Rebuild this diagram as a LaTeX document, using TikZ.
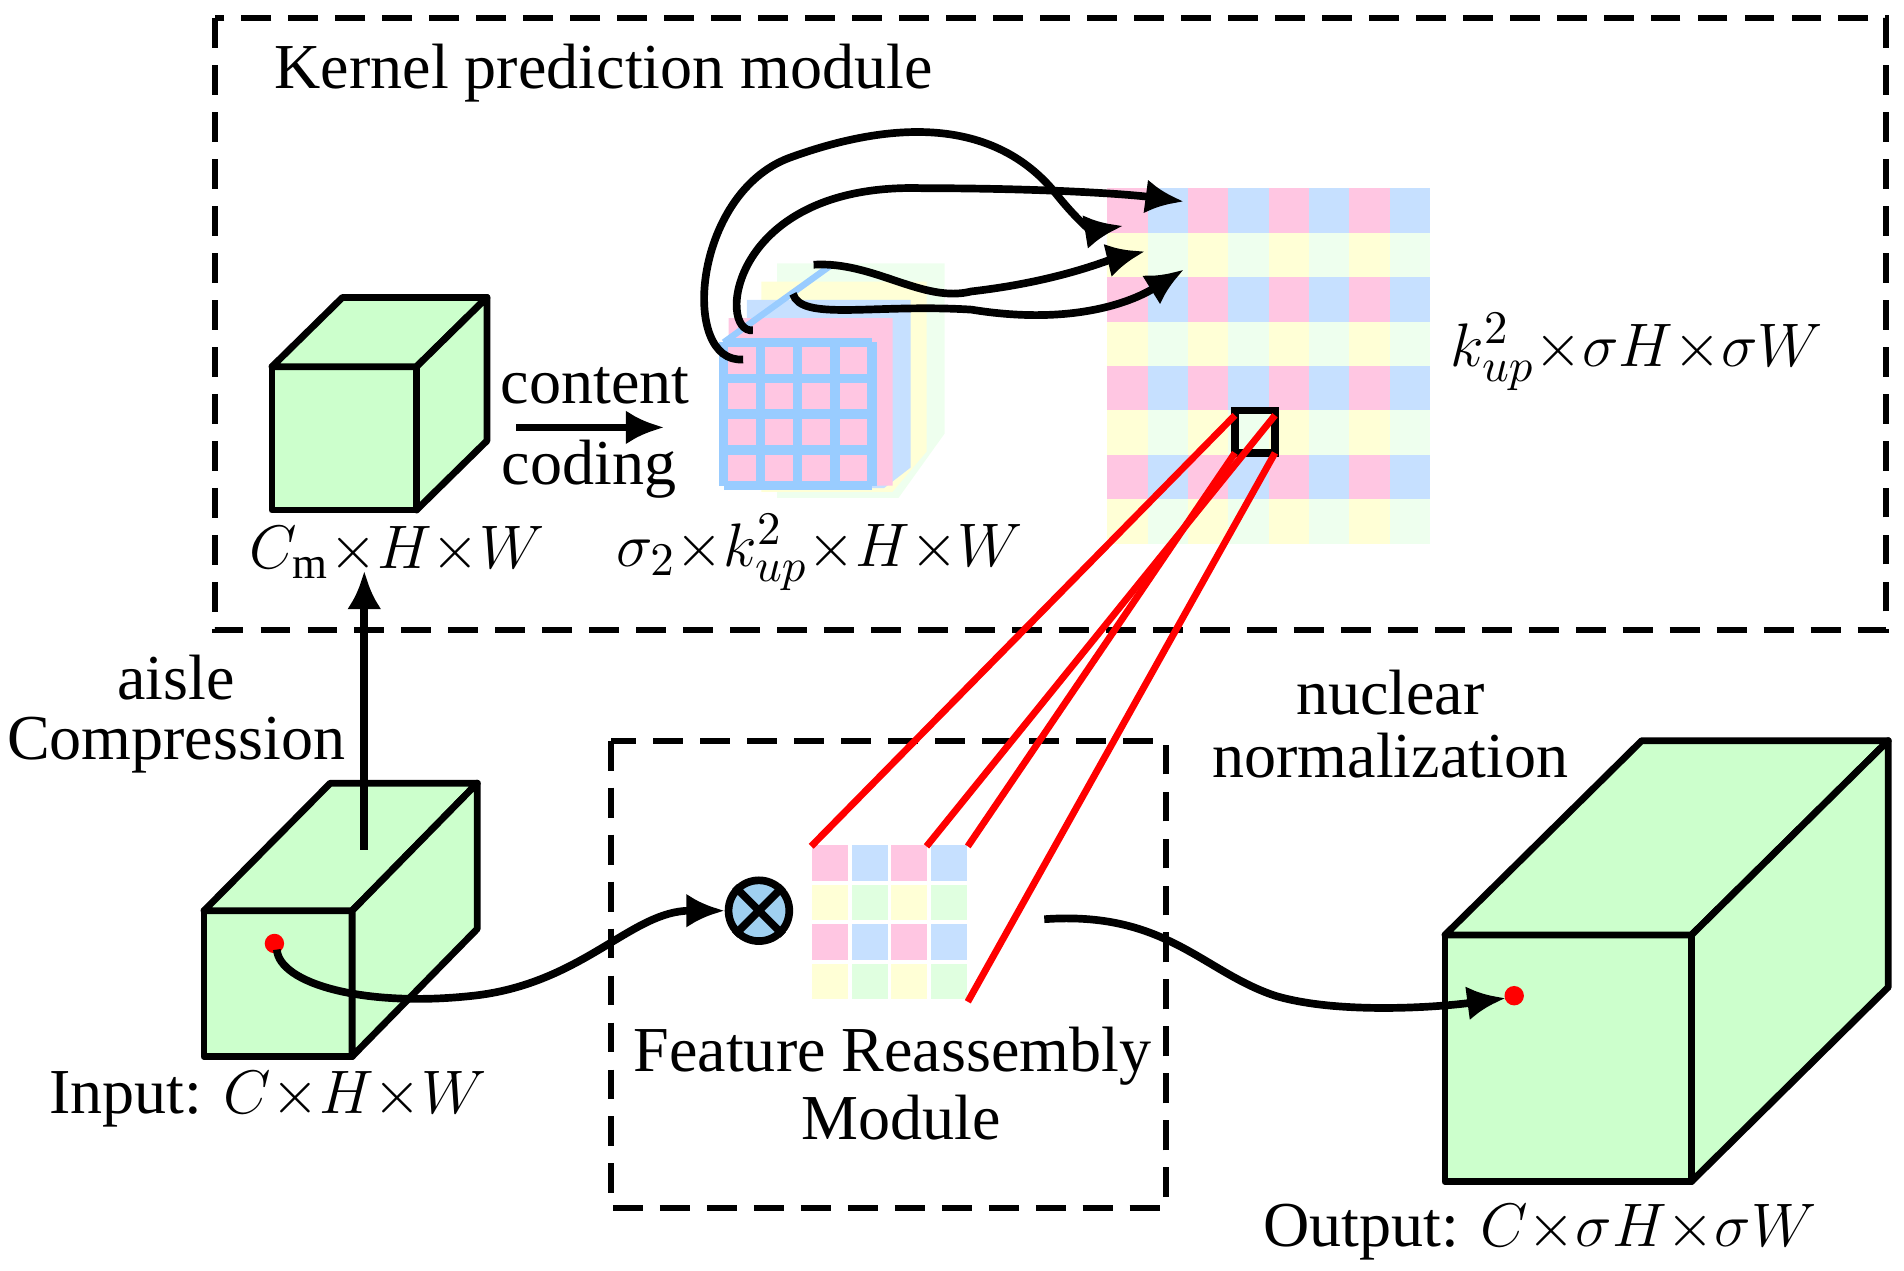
\documentclass[tikz,border=0pt]{standalone}
\usepackage{fontspec}
\setmainfont{Liberation Serif}
\usetikzlibrary{calc, arrows.meta}
\usepackage{amsmath}

\definecolor{cubegreen}{HTML}{CCFFCC}
\definecolor{kpink}{HTML}{FFC6E2}
\definecolor{kblue}{HTML}{C6E0FF}
\definecolor{kyellow}{HTML}{FFFFD6}
\definecolor{kgreen}{HTML}{EEFFEE}
\definecolor{gridblue}{HTML}{99CCFF}
\definecolor{otimesblue}{HTML}{9FD0F0}

\newcommand{\tm}{{\times}}

\begin{document}
\begin{tikzpicture}[x=0.01cm, y=-0.01cm, line width=1.4pt,
    every node/.style={font=\fontsize{15}{18}\selectfont},
    cube/.style={draw=black, fill=cubegreen, line width=1.6pt, line join=round},
    dashbox/.style={draw=black, line width=1.5pt, dash pattern=on 7pt off 4pt},
    flow/.style={-{Latex[length=9pt,width=8pt]}, line width=1.8pt},
    redline/.style={draw=red, line width=1.6pt}]
        \useasboundingbox (0,0) rectangle (1568,1046);

        % Boxes
        \draw[dashbox] (177,15) rectangle (1553,519);
        \draw[dashbox] (503,610) rectangle (960,995);
        \node[anchor=west] (title) at (212,60) {Kernel prediction module};

        % Cubes
        \draw[cube] (224,302) rectangle (343,420);
        \draw[cube] (224,302) -- (282,245) -- (401,245) -- (343,302) -- cycle;
        \draw[cube] (343,302) -- (401,245) -- (401,363) -- (343,420) -- cycle;

        \draw[cube] (168,750) rectangle (290,870);
        \draw[cube] (168,750) -- (272,645) -- (393,645) -- (290,750) -- cycle;
        \draw[cube] (290,750) -- (393,645) -- (393,765) -- (290,870) -- cycle;

        \draw[cube] (1190,770) rectangle (1393,973);
        \draw[cube] (1190,770) -- (1352,610) -- (1555,610) -- (1393,770) -- cycle;
        \draw[cube] (1393,770) -- (1555,610) -- (1555,813) -- (1393,973) -- cycle;

        % Labels
        \node (cm) at (327,455) {$C_{\mathrm{m}}\tm H\tm W$};
        \node (kstack) at (675,455) {$\sigma_2\tm k_{up}^2\tm H\tm W$};
        \node (kmap) at (1348,290) {$k_{up}^2\tm\sigma H\tm\sigma W$};
        \node (content) at (490,318) {content};
        \node (coding) at (485,386) {coding};
        \node (aisle) at (145,558) {aisle};
        \node (compr) at (145,614) {Compression};
        \node (nuclear) at (1145,570) {nuclear};
        \node (norm) at (1145,622) {normalization};
        \node[anchor=east] (input) at (415,905) {Input: $C\tm H\tm W$};
        \node[anchor=east] (output) at (1510,1015) {Output: $C\tm\sigma H\tm\sigma W$};
        \node (fr1) at (735,870) {Feature Reassembly};
        \node (fr2) at (742,920) {Module};

        % Stacked kernels
        \fill[kgreen]  (640,217) -- (778,217) -- (778,357) -- (740,410) -- (640,410) -- cycle;
        \fill[kyellow] (627,232) -- (763,232) -- (763,372) -- (735,405) -- (627,405) -- cycle;
        \fill[kblue]   (615,247) -- (750,247) -- (750,385) -- (728,402) -- (615,402) -- cycle;
        \fill[kpink]   (600,262) -- (735,262) -- (735,400) -- (718,400) -- (600,400) -- cycle;
        \draw[gridblue, line width=1.5pt] (596,282) -- (685,218);
        \fill[kpink] (596,282) rectangle (718,400);
        \foreach \i in {0,...,4} {
            \draw[gridblue, line width=2.2pt] (596+30.5*\i,282) -- (596+30.5*\i,400);
            \draw[gridblue, line width=2.2pt] (596,282+29.5*\i) -- (718,282+29.5*\i);
        }

        % Predicted kernel map
        \foreach \r in {0,...,7} {
            \foreach \c in {0,...,7} {
                \pgfmathsetmacro{\isodd}{mod(\r,2)}
                \pgfmathsetmacro{\cc}{mod(\c,2)}
                \ifdim\isodd pt=0pt
                    \ifdim\cc pt=0pt \def\cellcol{kpink}\else\def\cellcol{kblue}\fi
                \else
                    \ifdim\cc pt=0pt \def\cellcol{kyellow}\else\def\cellcol{kgreen}\fi
                \fi
                \fill[\cellcol] (912+33.2*\c,155+36.6*\r) rectangle ++(33.4,36.8);
            }
        }
        \draw[line width=1.8pt] (1017,338) rectangle (1050,373);

        % Small reassembly grid
        \foreach \r in {0,...,3} {
            \foreach \c in {0,...,3} {
                \pgfmathsetmacro{\isodd}{mod(\r,2)}
                \pgfmathsetmacro{\cc}{mod(\c,2)}
                \ifdim\isodd pt=0pt
                    \ifdim\cc pt=0pt \def\cellcol{kpink}\else\def\cellcol{kblue}\fi
                \else
                    \ifdim\cc pt=0pt \def\cellcol{kyellow}\else\def\cellcol{kgreen!60!cubegreen}\fi
                \fi
                \fill[\cellcol] (669+32.5*\c,696+32.5*\r) rectangle ++(29.5,29.5);
            }
        }

        % Red projection lines
        \draw[redline] (1017,342) -- (668,697);
        \draw[redline] (1050,342) -- (763,697);
        \draw[redline] (1017,373) -- (797,697);
        \draw[redline] (1050,373) -- (797,825);

        % Kernel arrows
        \draw[flow] (612,296) .. controls (560,300) and (570,160) .. (650,130) .. controls (760,90) and (830,110) .. (870,160) .. controls (890,185) and (900,190) .. (925,186);
        \draw[flow] (620,272) .. controls (590,275) and (600,150) .. (760,155) .. controls (860,155) and (930,160) .. (975,166);
        \draw[flow] (670,218) .. controls (720,215) and (760,250) .. (800,240) .. controls (870,232) and (910,215) .. (943,207);
        \draw[flow] (653,242) .. controls (660,265) and (720,250) .. (800,255) .. controls (880,268) and (930,250) .. (975,222);

        % Main flow
        \coordinate (cmtop) at (300,470);
        \draw[flow] (300,700) -- (cmtop);
        \draw[flow] (425,352) -- (547,352);
        \node[circle, draw, fill=otimesblue, line width=1.8pt, minimum size=0.5cm, inner sep=0pt] (mul) at (625,750) {};
        \draw[line width=1.8pt] (mul.north west) -- (mul.south east) (mul.north east) -- (mul.south west);
        \fill[red] (226,777) circle (8);
        \fill[red] (1247,820) circle (8);
        \coordinate (indot) at (228,782);
        \coordinate (outdot) at (1240,822);
        \draw[flow] (indot) .. controls (230,810) and (300,830) .. (390,820) .. controls (480,810) and (520,750) .. (mul.west);
        \draw[flow] (860,757) .. controls (960,750) and (990,800) .. (1050,820) .. controls (1100,835) and (1180,830) .. (outdot);
\end{tikzpicture}
\end{document}
